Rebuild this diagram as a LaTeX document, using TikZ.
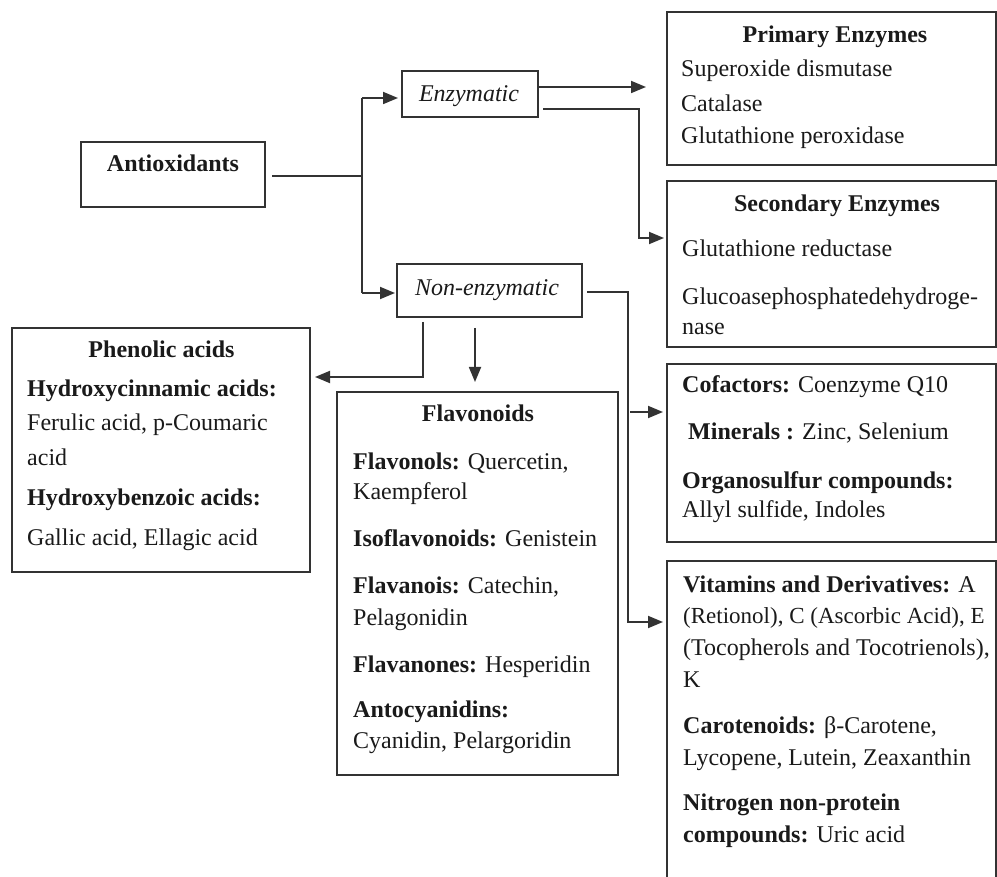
\documentclass[tikz,border=0pt]{standalone}
\usepackage{fontspec}
\setmainfont{Liberation Serif}
\usetikzlibrary{arrows.meta}
\definecolor{linec}{HTML}{333333}
\definecolor{txtc}{HTML}{1A1A1A}
\begin{document}
\begin{tikzpicture}[x=1pt,y=-1pt,
  box/.style={draw=linec, line width=1.6pt, rectangle, inner sep=0pt},
  t/.style={anchor=base west, inner sep=0pt, font=\fontsize{24}{28}\selectfont, text=txtc},
  tc/.style={t, anchor=base},
  conn/.style={draw=linec, line width=1.8pt},
  arr/.style={conn, -{Triangle[length=15pt,width=12pt]}}]
\useasboundingbox (0,0) rectangle (997,877);
\clip (0,0) rectangle (997,877);
\fill[white] (0,0) rectangle (997,877);

% boxes
\node[box, minimum width=184pt, minimum height=65pt] (ao) at (173,174.5) {};
\node[box, minimum width=136pt, minimum height=46pt] (enz) at (470,94) {};
\node[box, minimum width=185pt, minimum height=53pt] (non) at (489.5,290.5) {};
\node[box, minimum width=329pt, minimum height=153pt] (prim) at (831.5,88.5) {};
\node[box, minimum width=329pt, minimum height=166pt] (sec) at (831.5,264) {};
\node[box, minimum width=329pt, minimum height=178pt] (cof) at (831.5,453) {};
\node[box, minimum width=329pt, minimum height=339pt] (vit) at (831.5,730.5) {};
\node[box, minimum width=281pt, minimum height=383pt] (flav) at (477.5,583.5) {};
\node[box, minimum width=298pt, minimum height=244pt] (phen) at (161,450) {};

% texts
\node[tc] (aot) at (173,172) {\textbf{Antioxidants}};
\node[tc] (enzt) at (469,102) {\textit{Enzymatic}};
\node[tc] (nont) at (487,296) {\textit{Non-enzymatic}};

\node[tc] (prim0) at (835,43) {\textbf{Primary Enzymes}};
\node[t] (prim1) at (681,77) {Superoxide dismutase};
\node[t] (prim2) at (681,112) {Catalase};
\node[t] (prim3) at (681,144) {Glutathione peroxidase};

\node[tc] (sec0) at (837,212) {\textbf{Secondary Enzymes}};
\node[t] (sec1) at (682,257) {Glutathione reductase};
\node[t] (sec2) at (682,305) {Glucoasephosphatedehydroge-};
\node[t] (sec3) at (682,335) {nase};

\node[t] (cof1) at (682,393) {\textbf{Cofactors:} Coenzyme Q10};
\node[t] (cof2) at (688,440) {\textbf{Minerals :} Zinc, Selenium};
\node[t] (cof3) at (682,489) {\textbf{Organosulfur compounds:}};
\node[t] (cof4) at (682,518) {Allyl sulfide, Indoles};

\node[t] (vit1) at (683,592) {\textbf{Vitamins and Derivatives:} A};
\node[t, font=\fontsize{23}{28}\selectfont] (vit2) at (683,623) {(Retionol), C (Ascorbic Acid), E};
\node[t] (vit3) at (683,655) {(Tocopherols and Tocotrienols),};
\node[t] (vit4) at (683,687) {K};
\node[t] (vit5) at (683,733) {\textbf{Carotenoids:} β-Carotene,};
\node[t] (vit6) at (683,765) {Lycopene, Lutein, Zeaxanthin};
\node[t] (vit7) at (683,810) {\textbf{Nitrogen non-protein}};
\node[t] (vit8) at (683,842) {\textbf{compounds:} Uric acid};

\node[tc] (flav0) at (478,422) {\textbf{Flavonoids}};
\node[t] (flav1) at (353,470) {\textbf{Flavonols:} Quercetin,};
\node[t] (flav2) at (353,500) {Kaempferol};
\node[t] (flav3) at (353,547) {\textbf{Isoflavonoids:} Genistein};
\node[t] (flav4) at (353,593) {\textbf{Flavanois:} Catechin,};
\node[t] (flav5) at (353,625) {Pelagonidin};
\node[t] (flav6) at (353,672) {\textbf{Flavanones:} Hesperidin};
\node[t] (flav7) at (353,717) {\textbf{Antocyanidins:}};
\node[t] (flav8) at (353,748) {Cyanidin, Pelargoridin};

\node[tc] (phen0) at (161.5,358) {\textbf{Phenolic acids}};
\node[t] (phen1) at (27,397) {\textbf{Hydroxycinnamic acids:}};
\node[t] (phen2) at (27,431) {Ferulic acid, p-Coumaric};
\node[t] (phen3) at (27,465) {acid};
\node[t] (phen4) at (27,506) {\textbf{Hydroxybenzoic acids:}};
\node[t] (phen5) at (27,545) {Gallic acid, Ellagic acid};

% connector points
\coordinate (aoout) at (272,176);
\coordinate (jn) at (362,176);
\coordinate (jt) at (362,98);
\coordinate (jb) at (362,293);
\coordinate (enzin) at (398,98);
\coordinate (nonin) at (395,293);
\coordinate (e1) at (539,87);
\coordinate (e1t) at (646,87);
\coordinate (e2) at (543,109);
\coordinate (e2b) at (639,109);
\coordinate (e2c) at (639,238);
\coordinate (e2t) at (664,238);
\coordinate (n1) at (587,292);
\coordinate (n1b) at (628,292);
\coordinate (n1c) at (628,622);
\coordinate (n1t) at (663,622);
\coordinate (n2) at (630,412);
\coordinate (n2t) at (663,412);
\coordinate (n3) at (475,328);
\coordinate (n3t) at (475,382);
\coordinate (n4) at (423,322);
\coordinate (n4b) at (423,377);
\coordinate (n4t) at (315,377);

% connectors
\draw[conn] (aoout) -- (jn);
\draw[conn] (jt) -- (jb);
\draw[arr] (jt) -- (enzin);
\draw[arr] (jb) -- (nonin);
\draw[arr] (e1) -- (e1t);
\draw[arr] (e2) -- (e2b) -- (e2c) -- (e2t);
\draw[arr] (n1) -- (n1b) -- (n1c) -- (n1t);
\draw[arr] (n2) -- (n2t);
\draw[arr] (n3) -- (n3t);
\draw[arr] (n4) -- (n4b) -- (n4t);
\end{tikzpicture}
\end{document}
